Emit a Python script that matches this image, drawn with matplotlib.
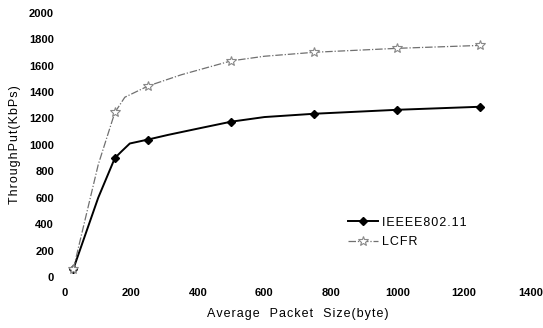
import numpy as np
import matplotlib
matplotlib.use("Agg")
from matplotlib import pyplot as plt

plt.rcParams['font.family'] = ['Liberation Sans', 'DejaVu Sans']

# packet size (byte) and throughput (KbPs)
ieee_x = [25, 100, 150, 170, 195, 250, 310, 410, 500, 600, 750, 1000, 1250]
ieee_y = [60, 600, 900, 950, 1010, 1040, 1075, 1128, 1175, 1210, 1235, 1265, 1288]
ieee_marks = [0, 2, 5, 8, 10, 11, 12]

lcfr_x = [25, 100, 150, 180, 250, 350, 500, 600, 750, 1000, 1250]
lcfr_y = [60, 850, 1245, 1360, 1445, 1530, 1635, 1670, 1700, 1730, 1752]
lcfr_marks = [0, 2, 4, 6, 8, 9, 10]

x_ticks = [0, 200, 400, 600, 800, 1000, 1200, 1400]
y_ticks = [0, 200, 400, 600, 800, 1000, 1200, 1400, 1600, 1800, 2000]


def spaced(s):
    # the scanned figure has wide letter spacing
    return "\u200a".join(s)


fig = plt.figure(figsize=(5.43, 3.28), dpi=100)
ax = fig.add_axes([0.1197, 0.1555, 0.857, 0.806])

ax.plot(ieee_x, ieee_y, color="black", lw=1.4, marker="D", ms=4.5,
        markevery=ieee_marks, label=spaced("IEEEE802.11"))
ax.plot(lcfr_x, lcfr_y, color="#707070", lw=0.9, ls=(0, (6, 1.5, 1, 1.5)),
        marker="*", ms=7, mfc="white", mec="#888888", mew=0.8,
        markevery=lcfr_marks, label=spaced("LCFR"))

ax.set_xlim(0, 1400)
ax.set_ylim(0, 2000)
ax.set_xticks(x_ticks)
ax.set_yticks(y_ticks)
ax.tick_params(length=0, labelsize=8, pad=8)
for lab in ax.get_xticklabels() + ax.get_yticklabels():
    lab.set_fontweight("bold")
for s in ax.spines.values():
    s.set_visible(False)

ax.set_xlabel(spaced("Average  Packet  Size(byte)"), fontsize=9, labelpad=7)
ax.set_ylabel(spaced("ThroughPut(KbPs)"), fontsize=9, labelpad=6)

leg = ax.legend(loc="upper left", bbox_to_anchor=(0.585, 0.27), fontsize=9,
                frameon=False, handlelength=2.4, handletextpad=0.3,
                labelspacing=0.6)

fig.savefig("out.png", dpi=100)
